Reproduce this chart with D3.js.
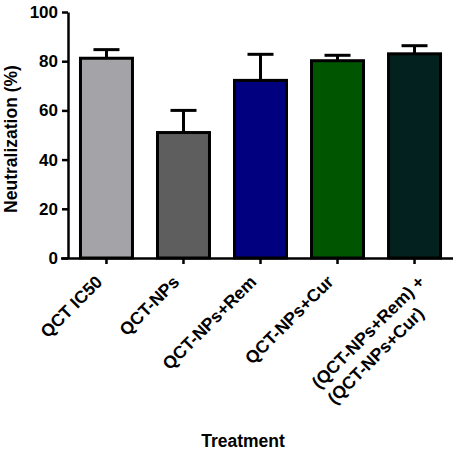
<!DOCTYPE html>
<html>
<head>
<meta charset="utf-8">
<script src="https://cdn.jsdelivr.net/npm/d3@7"></script>
<style>
  body { margin: 0; background: #fff; }
  text { font-family: "Liberation Sans", Arial, sans-serif; font-weight: bold; }
</style>
</head>
<body>
<svg width="457" height="451"></svg>
<script>
const treatments = ['QCT IC50', 'QCT-NPs', 'QCT-NPs+Rem', 'QCT-NPs+Cur', '(QCT-NPs+Rem) +|(QCT-NPs+Cur)'];
const neutralization = [81.2, 51.0, 72.2, 80.2, 83.0];
const sd = [3.5, 9.0, 10.6, 2.2, 3.3];
const colors = ['#a4a3a8', '#5e5e5e', '#01017f', '#005600', '#03221f'];
const yTicks = [0, 20, 40, 60, 80, 100];

const svg = d3.select('svg');

const x = d3.scaleBand()
  .domain(treatments)
  .range([68, 453])
  .paddingInner(0.325)
  .paddingOuter(0.162);

const y = d3.scaleLinear()
  .domain([0, 100])
  .range([258, 12]);

// bars
svg.append('g')
  .selectAll('rect')
  .data(treatments)
  .join('rect')
  .attr('x', d => x(d))
  .attr('width', x.bandwidth())
  .attr('y', (d, i) => y(neutralization[i]))
  .attr('height', (d, i) => y(0) - y(neutralization[i]))
  .attr('fill', (d, i) => colors[i])
  .attr('stroke', '#000')
  .attr('stroke-width', 3);

// error bars (upper only)
const err = svg.append('g')
  .attr('stroke', '#000')
  .attr('stroke-width', 3);

err.selectAll('line.v')
  .data(treatments)
  .join('line')
  .attr('class', 'v')
  .attr('x1', d => x(d) + x.bandwidth() / 2)
  .attr('x2', d => x(d) + x.bandwidth() / 2)
  .attr('y1', (d, i) => y(neutralization[i]))
  .attr('y2', (d, i) => y(neutralization[i] + sd[i]));

err.selectAll('line.cap')
  .data(treatments)
  .join('line')
  .attr('class', 'cap')
  .attr('x1', d => x(d) + x.bandwidth() / 2 - 13)
  .attr('x2', d => x(d) + x.bandwidth() / 2 + 13)
  .attr('y1', (d, i) => y(neutralization[i] + sd[i]))
  .attr('y2', (d, i) => y(neutralization[i] + sd[i]));

// y axis
const yAxis = svg.append('g')
  .attr('transform', 'translate(68,0)')
  .call(d3.axisLeft(y).tickValues(yTicks).tickSize(6).tickPadding(4).tickSizeOuter(0));
yAxis.select('.domain').attr('stroke-width', 2.5);
yAxis.selectAll('.tick line').attr('stroke-width', 2.5);
yAxis.selectAll('.tick text')
  .attr('font-size', 17)
  .attr('fill', '#000');

// x axis
const xAxis = svg.append('g')
  .attr('transform', 'translate(0,258)')
  .call(d3.axisBottom(x).tickSize(6).tickSizeOuter(0).tickFormat(''));
xAxis.select('.domain').attr('d', 'M61,0.5H453').attr('stroke-width', 2.5);
xAxis.selectAll('.tick line').attr('stroke-width', 2.5);

// rotated category labels
const labels = svg.append('g')
  .selectAll('text')
  .data(treatments)
  .join('text')
  .attr('font-size', 17.5)
  .attr('fill', '#000')
  .attr('transform', d => `translate(${x(d) + x.bandwidth() / 2 - 3},283) rotate(-45)`);

labels.each(function(d) {
  const t = d3.select(this);
  const lines = d.split('|');
  if (lines.length === 1) {
    t.attr('text-anchor', 'end').text(d);
  } else {
    const first = t.append('tspan').text(lines[0]);
    const len = first.node().getComputedTextLength();
    first.attr('x', -len + 10).attr('dy', 10);
    t.append('tspan').attr('x', -len + 10).attr('dy', 22).text(lines[1]);
  }
});

// axis titles
svg.append('text')
  .attr('transform', 'translate(17,139) rotate(-90)')
  .attr('text-anchor', 'middle')
  .attr('font-size', 17.5)
  .text('Neutralization (%)');

svg.append('text')
  .attr('x', 243)
  .attr('y', 447)
  .attr('text-anchor', 'middle')
  .attr('font-size', 17.5)
  .text('Treatment');
</script>
</body>
</html>
